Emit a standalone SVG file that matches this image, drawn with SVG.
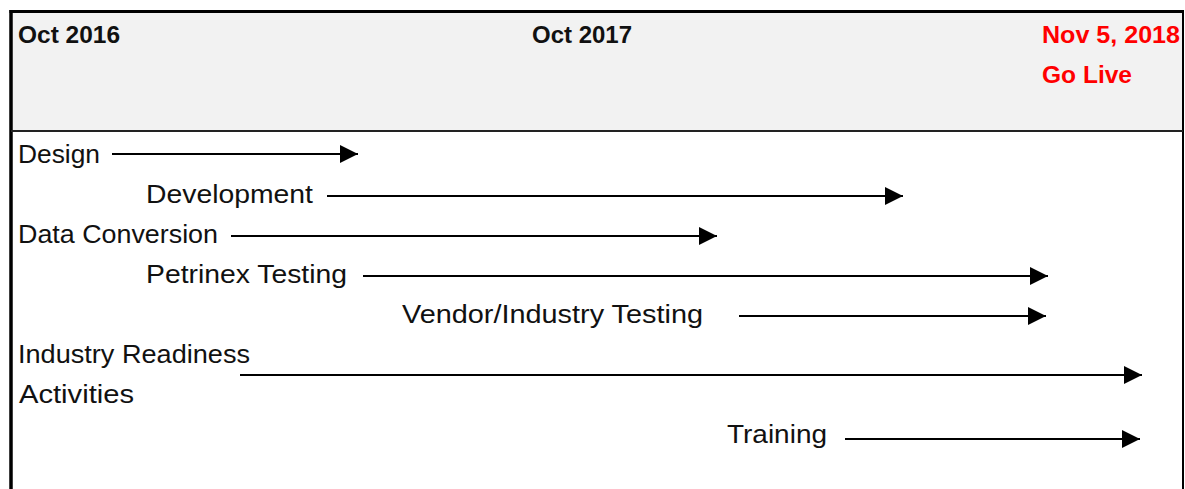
<svg xmlns="http://www.w3.org/2000/svg" width="1185" height="489" viewBox="0 0 1185 489">
  <style>
    .lbl { font-family: "Liberation Sans", Arial, sans-serif; font-size: 25px; fill: #111; }
    .hdr { font-family: "Liberation Sans", Arial, sans-serif; font-size: 24px; font-weight: bold; fill: #111; }
    .red { fill: #ff0000; }
    .conn { stroke: #000; stroke-width: 2; fill: none; marker-end: url(#arrow); }
  </style>
  <defs>
    <marker id="arrow" viewBox="0 0 18 18" refX="18" refY="9" markerWidth="18" markerHeight="18" markerUnits="userSpaceOnUse" orient="auto">
      <path d="M0,0 L18,9 L0,18 Z" fill="#000"/>
    </marker>
  </defs>
  <rect x="0" y="0" width="1185" height="489" fill="#ffffff"/>
  <g id="frame">
    <rect x="11" y="11" width="1172" height="120" fill="#f2f2f2"/>
    <line x1="9.5" y1="11.5" x2="1184" y2="11.5" stroke="#000" stroke-width="3"/>
    <line x1="11" y1="10" x2="11" y2="489" stroke="#000" stroke-width="3.5"/>
    <line x1="1183" y1="10" x2="1183" y2="489" stroke="#000" stroke-width="2"/>
    <line x1="11" y1="131" x2="1183" y2="131" stroke="#222" stroke-width="2"/>
  </g>
  <g id="header">
    <text class="hdr" x="18" y="43" textLength="102" lengthAdjust="spacingAndGlyphs">Oct 2016</text>
    <text class="hdr" x="532" y="43" textLength="100" lengthAdjust="spacingAndGlyphs">Oct 2017</text>
    <text class="hdr red" x="1042" y="43" textLength="138" lengthAdjust="spacingAndGlyphs">Nov 5, 2018</text>
    <text class="hdr red" x="1042" y="83" textLength="90" lengthAdjust="spacingAndGlyphs">Go Live</text>
  </g>
  <g id="node-design"><text class="lbl" x="18" y="163" textLength="82" lengthAdjust="spacingAndGlyphs">Design</text></g>
  <g id="node-development"><text class="lbl" x="146" y="203" textLength="167" lengthAdjust="spacingAndGlyphs">Development</text></g>
  <g id="node-data-conversion"><text class="lbl" x="18" y="243" textLength="200" lengthAdjust="spacingAndGlyphs">Data Conversion</text></g>
  <g id="node-petrinex-testing"><text class="lbl" x="146" y="283" textLength="201" lengthAdjust="spacingAndGlyphs">Petrinex Testing</text></g>
  <g id="node-vendor-testing"><text class="lbl" x="402" y="323" textLength="301" lengthAdjust="spacingAndGlyphs">Vendor/Industry Testing</text></g>
  <g id="node-industry-readiness">
    <text class="lbl" x="18" y="363" textLength="232" lengthAdjust="spacingAndGlyphs">Industry Readiness</text>
    <text class="lbl" x="19" y="403" textLength="115" lengthAdjust="spacingAndGlyphs">Activities</text>
  </g>
  <g id="node-training"><text class="lbl" x="727" y="443" textLength="100" lengthAdjust="spacingAndGlyphs">Training</text></g>
  <g id="connectors">
    <line class="conn" x1="112" y1="154" x2="358" y2="154"/>
    <line class="conn" x1="327" y1="196" x2="903" y2="196"/>
    <line class="conn" x1="231" y1="236" x2="717" y2="236"/>
    <line class="conn" x1="363" y1="276" x2="1048" y2="276"/>
    <line class="conn" x1="739" y1="316" x2="1046" y2="316"/>
    <line class="conn" x1="240" y1="375" x2="1142" y2="375"/>
    <line class="conn" x1="845" y1="439" x2="1140" y2="439"/>
  </g>
</svg>
